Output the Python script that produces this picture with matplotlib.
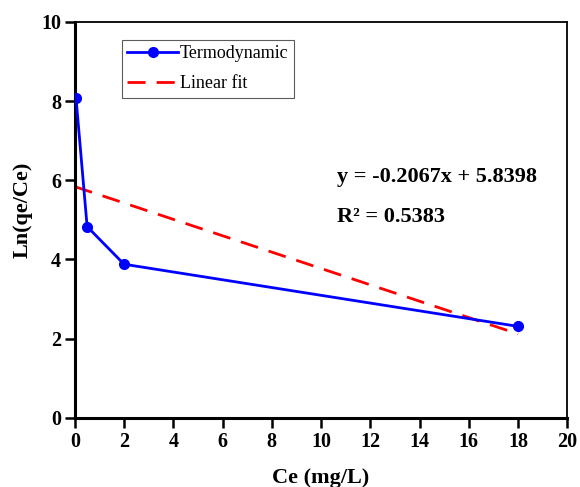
import matplotlib
matplotlib.use("Agg")
import matplotlib.pyplot as plt
import numpy as np

ce = [0.05, 0.5, 2.0, 18.0]
lnqece = [8.07, 4.83, 3.88, 2.31]
slope = -0.2067
intercept = 5.8398
fit_x = [0.0, 18.0]

plt.rcParams['font.family'] = ['Liberation Serif', 'DejaVu Serif']

fig = plt.figure(figsize=(5.8, 4.87), dpi=100)
ax = fig.add_axes([0.129, 0.142, 0.849, 0.813])

ax.plot(ce, lnqece, color='#0000ff', lw=2, marker='o', ms=7, label='Termodynamic', zorder=3)
fy = [slope * x + intercept for x in fit_x]
ax.plot(fit_x, fy, color='#ff0000', lw=2, ls=(0, (6.5, 4)), label='Linear fit', zorder=2)

ax.set_xlim(0, 20)
ax.set_ylim(0, 10)
ax.set_xticks(range(0, 21, 2))
ax.set_yticks(range(0, 11, 2))
ax.tick_params(direction='out', length=7, width=1.8, labelsize=14.5, pad=3)
for lab in ax.get_xticklabels() + ax.get_yticklabels():
    lab.set_fontweight('bold')
ax.spines['left'].set_linewidth(2.2)
ax.spines['bottom'].set_linewidth(2.2)
ax.spines['top'].set_linewidth(1.3)
ax.spines['right'].set_linewidth(1.3)

ax.set_xlabel('Ce (mg/L)', fontsize=16, fontweight='bold')
ax.set_ylabel('Ln(qe/Ce)', fontsize=16, fontweight='bold')
ax.xaxis.set_label_coords(0.499, -0.127)
ax.yaxis.set_label_coords(-0.085, 0.525)

leg = ax.legend(loc='upper left', bbox_to_anchor=(0.0955, 0.955), fontsize=13,
                frameon=True, fancybox=False, edgecolor='#333333', handlelength=2.8,
                borderpad=0.3, labelspacing=0.72, handletextpad=0.1, borderaxespad=0)
leg.get_frame().set_linewidth(0.8)

ax.text(0.532, 0.596, 'y = -0.2067x + 5.8398', transform=ax.transAxes, fontsize=16, fontweight='bold')
ax.text(0.532, 0.495, 'R² = 0.5383', transform=ax.transAxes, fontsize=16, fontweight='bold')

fig.savefig('out.png', dpi=100)
